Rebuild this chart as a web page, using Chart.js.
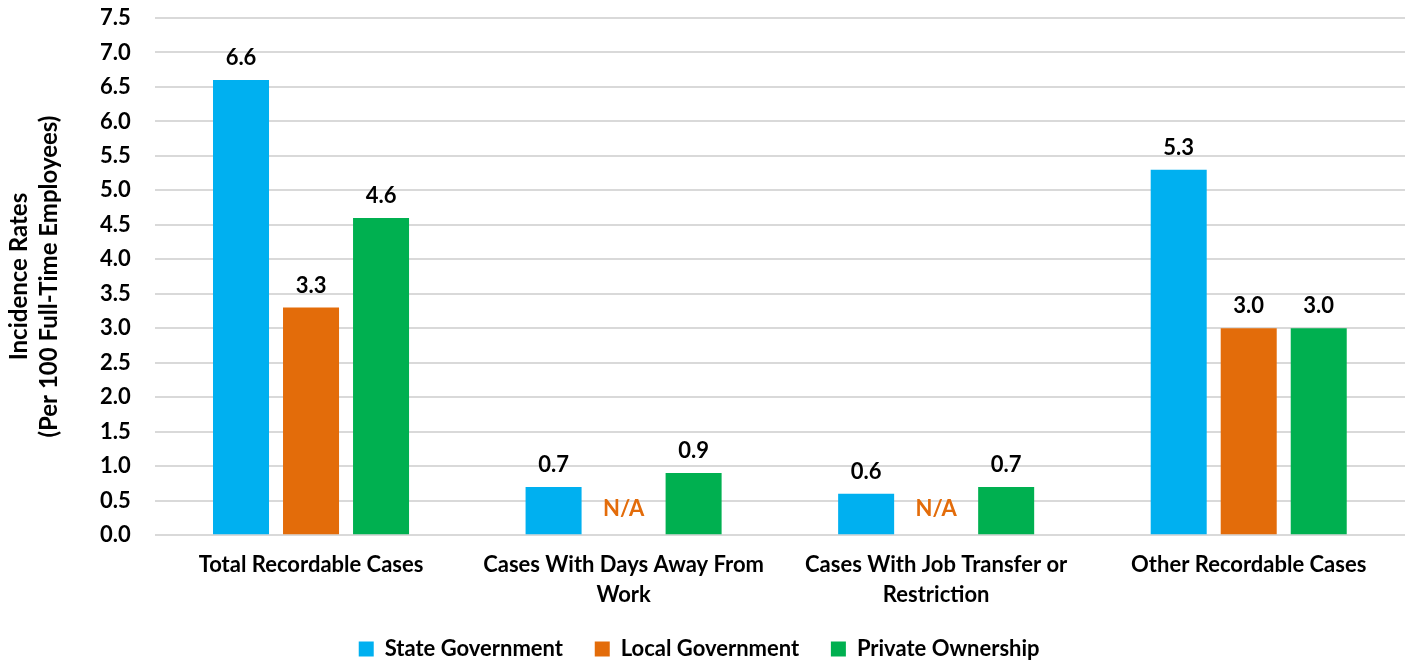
<!DOCTYPE html>
<html>
<head>
<meta charset="utf-8">
<script src="https://cdn.jsdelivr.net/npm/chart.js@4"></script>
<style>
  html, body { margin: 0; padding: 0; background: #fff; }
  #wrap { width: 1408px; height: 661px; }
</style>
</head>
<body>
<div id="wrap"><canvas id="myChart"></canvas></div>
<script>
"use strict";

// categories and series
const categories = [
    "Total Recordable Cases",
    ["Cases With Days Away From", "Work"],
    ["Cases With Job Transfer or", "Restriction"],
    "Other Recordable Cases"
];
const stateGov = [6.6, 0.7, 0.6, 5.3];
const localGov = [3.3, null, null, 3.0];
const privateOwn = [4.6, 0.9, 0.7, 3.0];
const seriesNames = ["State Government", "Local Government", "Private Ownership"];
const seriesColors = ["#00B0F0", "#E36C0A", "#00B050"];

const FONT = "Lato, 'Open Sans', sans-serif";

// labels above bars, "N/A" where there is no value
const barLabels = {
    id: "barLabels",
    afterDatasetsDraw(chart) {
        const ctx = chart.ctx;
        const yScale = chart.scales.y;
        ctx.save();
        ctx.textAlign = "center";
        ctx.font = "bold 22px " + FONT;
        chart.data.datasets.forEach((ds, di) => {
            const meta = chart.getDatasetMeta(di);
            meta.data.forEach((bar, i) => {
                const v = ds.data[i];
                if (v === null) {
                    ctx.fillStyle = ds.backgroundColor;
                    ctx.textBaseline = "middle";
                    ctx.fillText("N/A", bar.x, yScale.getPixelForValue(0.38));
                } else {
                    ctx.fillStyle = "#000";
                    ctx.textBaseline = "bottom";
                    ctx.fillText(v.toFixed(1), bar.x, bar.y - 11);
                }
            });
        });
        ctx.restore();
    }
};

const chart = new Chart(document.getElementById("myChart"), {
    type: "bar",
    data: {
        labels: categories,
        datasets: [
            { label: seriesNames[0], data: stateGov, backgroundColor: seriesColors[0] },
            { label: seriesNames[1], data: localGov, backgroundColor: seriesColors[1] },
            { label: seriesNames[2], data: privateOwn, backgroundColor: seriesColors[2] }
        ]
    },
    options: {
        responsive: true,
        maintainAspectRatio: false,
        animation: false,
        layout: { padding: { left: 4, right: 3, top: 18, bottom: -9 } },
        datasets: {
            bar: { categoryPercentage: 0.672, barPercentage: 0.8 }
        },
        scales: {
            x: {
                grid: { display: false },
                border: { display: false },
                ticks: {
                    color: "#000",
                    font: { family: FONT, size: 22, weight: "bold", lineHeight: 1.36 },
                    maxRotation: 0,
                    padding: 7
                }
            },
            y: {
                min: 0,
                max: 7.5,
                grid: { color: "#D9D9D9", lineWidth: 2, drawTicks: true, tickLength: 24, tickColor: "rgba(0,0,0,0)" },
                border: { display: false },
                ticks: {
                    stepSize: 0.5,
                    color: "#000",
                    padding: 0,
                    font: { family: FONT, size: 22, weight: "bold" },
                    callback: v => v.toFixed(1)
                },
                title: {
                    display: true,
                    text: ["Incidence Rates", "(Per 100 Full-Time Employees)"],
                    color: "#000",
                    font: { family: FONT, size: 24, weight: "bold", lineHeight: 1.25 },
                    padding: { top: 0, bottom: 36 }
                }
            }
        },
        plugins: {
            legend: {
                position: "bottom",
                labels: {
                    color: "#000",
                    font: { family: FONT, size: 22, weight: "bold" },
                    boxWidth: 15,
                    boxHeight: 15,
                    padding: 21,
                    generateLabels: c => Chart.defaults.plugins.legend.labels.generateLabels(c)
                        .map(item => Object.assign(item, { text: item.text + "  " }))
                }
            },
            tooltip: { enabled: false }
        }
    },
    plugins: [barLabels]
});
</script>
</body>
</html>
